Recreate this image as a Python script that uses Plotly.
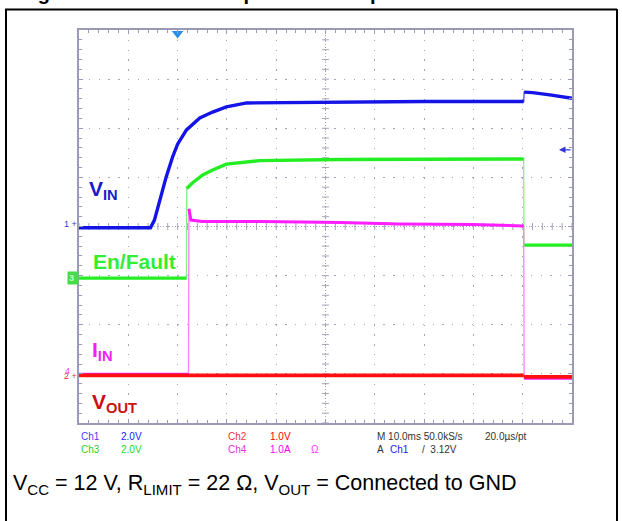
import numpy as np
import plotly.graph_objects as go

# ---------------- data ----------------
# time in ms (10 ms/div, trigger at t = 0)
t_vin = [-20, -5.5, -4.7, -3.65, -2.3, -1.0, 0.0, 1.8, 4.5, 7.1, 9.9, 14.0, 20.1, 32.9, 50.0, 70.2, 70.3, 72.0, 75.5, 80]
v_vin = [-0.05, -0.05, 0.26, 1.08, 2.03, 2.84, 3.35, 3.93, 4.42, 4.66, 4.87, 5.03, 5.04, 5.08, 5.09, 5.09, 5.47, 5.45, 5.36, 5.22]

t_en = [-20, 1.8, 1.85, 3.0, 5.1, 7.1, 9.9, 12.6, 16.6, 32.9, 70.2, 70.25, 80]
v_en = [0.0, 0.0, 3.65, 3.87, 4.20, 4.40, 4.64, 4.70, 4.78, 4.83, 4.85, 1.34, 1.34]

t_iin = [-20, 2.2, 2.3, 2.7, 5.0, 17.0, 33.0, 45.0, 60.0, 70.2, 70.3, 80]
i_iin = [0.0, 0.0, 3.37, 3.14, 3.11, 3.11, 3.09, 3.06, 3.05, 3.02, -0.08, -0.08]

t_vout = [-20, 70.2, 70.3, 80]
v_vout = [-0.02, -0.02, -0.05, -0.05]

# channel settings: (scale per div, ground offset in divisions)
CH1 = (2.0, 0.0)    # VIN
CH2 = (1.0, -3.01)  # VOUT
CH3 = (2.0, -1.05)  # En/Fault
CH4 = (1.0, -3.01)  # IIN
TRIG_LEVEL = 3.12
TRIG_T = 0.0

# ---------------- helpers ----------------
W, H = 622, 521
def px(x): return x / W
def py(y): return 1 - y / H

def to_div(vals, ch):
    s, o = ch
    return [o + v / s for v in vals]

def break_vertical(t, y):
    tt, yy = [], []
    for i in range(len(t)):
        if i > 0 and abs(t[i] - t[i - 1]) < 0.2:
            tt.append(None); yy.append(None)
        tt.append(t[i]); yy.append(y[i])
    return tt, yy

GRID = '#a4a4bc'
BORDER = '#9a9ab6'

fig = go.Figure()

def add_wave(t, vals, ch, color, thin_color, width):
    y = to_div(vals, ch)
    fig.add_trace(go.Scatter(x=t, y=y, mode='lines', line=dict(color=thin_color, width=1.3),
                             hoverinfo='skip'))
    tt, yy = break_vertical(t, y)
    fig.add_trace(go.Scatter(x=tt, y=yy, mode='lines', line=dict(color=color, width=width),
                             connectgaps=False, hoverinfo='skip'))

# graticule centre lines with minor ticks
fig.add_shape(type='line', x0=30, x1=30, y0=-4, y1=4, xref='x', yref='y',
              line=dict(color=GRID, width=1, dash='1px,2px'), layer='below')
fig.add_shape(type='line', x0=-20, x1=80, y0=0, y1=0, xref='x', yref='y',
              line=dict(color=GRID, width=1, dash='1px,2px'), layer='below')
xt = np.arange(-20, 80.01, 2)
yt = np.arange(-4, 4.01, 0.2)
fig.add_trace(go.Scatter(x=xt, y=[0] * len(xt), mode='markers',
                         marker=dict(symbol='line-ns', size=5, line=dict(color=GRID, width=1)),
                         hoverinfo='skip'))
fig.add_trace(go.Scatter(x=[30] * len(yt), y=yt, mode='markers',
                         marker=dict(symbol='line-ew', size=5, line=dict(color=GRID, width=1)),
                         hoverinfo='skip'))

add_wave(t_vin, v_vin, CH1, '#1414e6', '#4a4af0', 3.4)
add_wave(t_en, v_en, CH3, '#22ee22', '#88f088', 3.4)
add_wave(t_iin, i_iin, CH4, '#ff1cff', '#ff80ff', 3.0)
add_wave(t_vout, v_vout, CH2, '#ff1010', '#ff5050', 3.8)

# trigger position marker
fig.add_trace(go.Scatter(x=[TRIG_T], y=[3.93], mode='markers', cliponaxis=False,
                         marker=dict(symbol='triangle-down', size=10, color='#2b8ee8'),
                         hoverinfo='skip'))

ann = []
def label(x, y, text, color, size, family='Liberation Sans', xanchor='left', yanchor='middle', **kw):
    ann.append(dict(x=px(x), y=py(y), xref='paper', yref='paper', text=text, showarrow=False,
                    xanchor=xanchor, yanchor=yanchor,
                    font=dict(color=color, size=size, family=family), **kw))

# trace labels
label(87, 190, '<b>V<sub>IN</sub></b>', '#1a1acc', 21)
label(91, 261, '<b>En/Fault</b>', '#33ee33', 21)
label(90, 351, '<b>I<sub>IN</sub></b>', '#ee22ee', 21)
label(90, 403, '<b>V<sub>OUT</sub></b>', '#cc1111', 21)

# ground markers
label(79, 224, '1 +', '#3333dd', 9, xanchor='right')
label(79, 278, '<b>3 </b>', '#c8ffc8', 9, xanchor='right', bgcolor='#44dd44')
label(72, 371, '4', '#ee44ee', 9, xanchor='right')
label(79, 376, '2 +', '#ee3333', 9, xanchor='right')

# trigger level arrow (right edge)
ann.append(dict(x=px(559), y=CH1[1] + TRIG_LEVEL / CH1[0], xref='paper', yref='y', text='',
                showarrow=True, ax=13, ay=0, arrowhead=2, arrowsize=1, arrowwidth=1.3,
                arrowcolor='#3333dd'))

# scope info text
fs = 10
fam = 'Liberation Sans'
label(79, 436, 'Ch1', '#4444ee', fs, fam)
label(119, 436, '2.0V', '#2222ff', fs, fam)
label(79, 449, 'Ch3', '#33cc33', fs, fam)
label(119, 449, '2.0V', '#22dd22', fs, fam)
label(226, 436, 'Ch2', '#ee3333', fs, fam)
label(268, 436, '1.0V', '#ff0000', fs, fam)
label(226, 449, 'Ch4', '#dd33dd', fs, fam)
label(268, 449, '1.0A', '#ff00ff', fs, fam)
label(309, 449, 'Ω', '#ff33ff', fs, fam)
label(375, 436, 'M 10.0ms 50.0kS/s', '#333333', fs, fam)
label(483, 436, '20.0µs/pt', '#333333', fs, fam)
label(375, 449, 'A', '#333333', fs, fam)
label(388, 449, 'Ch1', '#2222ee', fs, fam)
label(420, 449, '/  3.12V', '#333333', fs, fam)

# caption
label(11, 484, 'V<sub>CC</sub> = 12 V, R<sub>LIMIT</sub> = 22 Ω, V<sub>OUT</sub> = Connected to GND',
      '#000000', 21.5)

# clipped figure title at the very top
label(18, -7, '<b>Figure 20. Short circuit protection at power-on</b>', '#000000', 20)

fig.update_layout(
    width=W, height=H, margin=dict(l=0, r=0, t=0, b=0),
    paper_bgcolor='white', plot_bgcolor='white', showlegend=False,
    annotations=ann,
    shapes=list(fig.layout.shapes) + [
        dict(type='line', xref='paper', yref='paper', x0=px(6), x1=px(6), y0=0, y1=py(9),
             line=dict(color='black', width=2)),
        dict(type='line', xref='paper', yref='paper', x0=px(5), x1=px(617), y0=py(9.5), y1=py(9.5),
             line=dict(color='black', width=2)),
        dict(type='line', xref='paper', yref='paper', x0=px(617), x1=px(617), y0=0, y1=py(9),
             line=dict(color='black', width=2)),
    ],
    xaxis=dict(domain=[px(79), px(572)], range=[-20, 80], dtick=10, tick0=0,
               showgrid=True, gridcolor=GRID, gridwidth=1.2, griddash='1.3px,8.52px',
               zeroline=False, showline=True, linecolor=BORDER, linewidth=2, mirror='allticks',
               ticks='inside', ticklen=4, tickcolor=BORDER, tickwidth=1, showticklabels=False,
               minor=dict(dtick=2, ticks='inside', ticklen=3, tickcolor=BORDER, tickwidth=1,
                          showgrid=False),
               fixedrange=True),
    yaxis=dict(domain=[py(423), py(30)], range=[-4, 4], dtick=1, tick0=0,
               showgrid=True, gridcolor=GRID, gridwidth=1.2, griddash='1.3px,8.52px',
               zeroline=False, showline=True, linecolor=BORDER, linewidth=2, mirror='allticks',
               ticks='inside', ticklen=4, tickcolor=BORDER, tickwidth=1, showticklabels=False,
               minor=dict(dtick=0.2, ticks='inside', ticklen=3, tickcolor=BORDER, tickwidth=1,
                          showgrid=False),
               fixedrange=True),
)

fig.write_html("out.html", config={'displayModeBar': False},
               post_script="document.body.style.margin='0';")
